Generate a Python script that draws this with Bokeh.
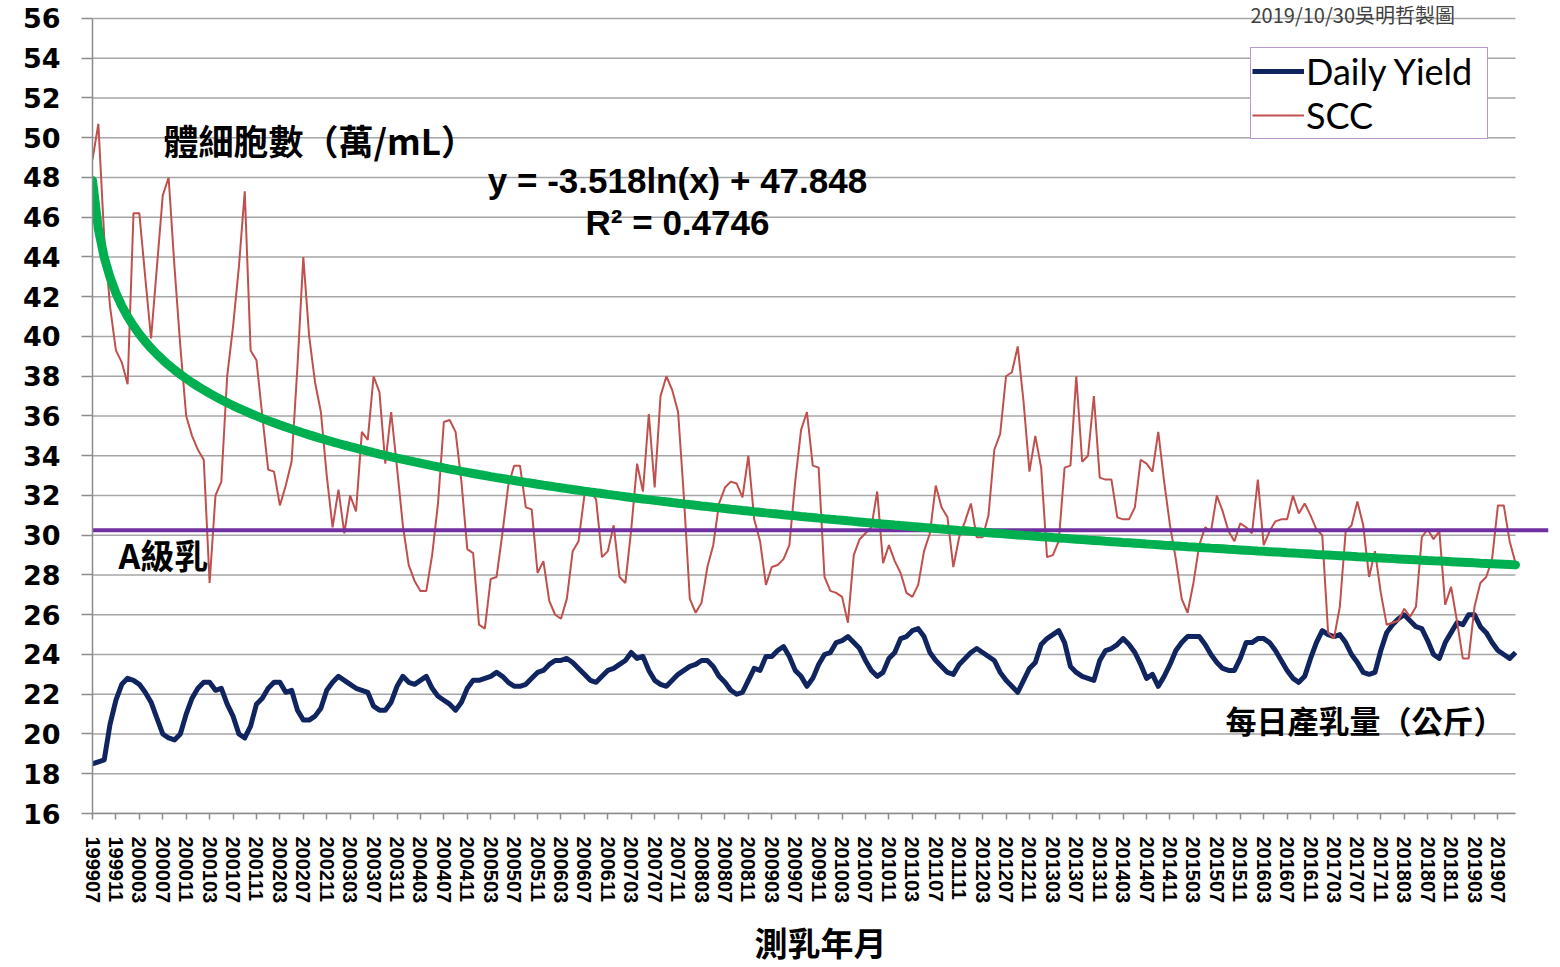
import numpy as np
import pandas as pd
from bokeh.plotting import figure
from bokeh.models import Range1d, FixedTicker, Label, Legend, LegendItem
from bokeh.embed import file_html
from bokeh.resources import INLINE

# ---------------- data ----------------
start_month = "1999-07"
n_months = 244
months = list(pd.period_range(start_month, periods=n_months, freq="M").strftime("%Y%m"))

scc = [
    48.9, 50.7, 45.0, 41.5, 39.3, 38.7, 37.6, 46.2, 46.2, 43.0,
    39.9, 43.5, 47.1, 48.0, 43.5, 39.5, 36.0, 35.0, 34.3, 33.8,
    27.6, 32.0, 32.7, 38.0, 40.5, 43.5, 47.3, 39.3, 38.8, 36.0,
    33.3, 33.2, 31.5, 32.5, 33.7, 38.5, 44.0, 40.0, 37.7, 36.2,
    33.0, 30.4, 32.3, 30.1, 32.0, 31.2, 35.2, 34.8, 38.0, 37.2,
    33.6, 36.2, 33.4, 30.5, 28.5, 27.7, 27.2, 27.2, 29.0, 31.6,
    35.7, 35.8, 35.2, 32.7, 29.3, 29.1, 25.5, 25.3, 27.8, 27.9,
    30.1, 32.5, 33.5, 33.5, 31.4, 31.3, 28.1, 28.7, 26.7, 26.0,
    25.8, 26.8, 29.2, 29.7, 32.0, 32.2, 31.8, 28.9, 29.2, 30.5,
    27.9, 27.6, 30.3, 33.6, 32.2, 36.1, 32.4, 37.0, 38.0, 37.3,
    36.2, 31.9, 26.8, 26.1, 26.6, 28.4, 29.5, 31.6, 32.4, 32.7,
    32.6, 31.9, 34.0, 30.8, 29.7, 27.5, 28.4, 28.5, 28.8, 29.5,
    32.7, 35.3, 36.2, 33.5, 33.4, 27.9, 27.2, 27.1, 26.9, 25.6,
    29.0, 29.8, 30.1, 30.4, 32.2, 28.6, 29.5, 28.7, 28.1, 27.1,
    26.9, 27.5, 29.2, 30.1, 32.5, 31.4, 30.9, 28.4, 29.9, 30.7,
    31.6, 29.9, 29.9, 31.0, 34.3, 35.1, 38.0, 38.2, 39.5, 36.7,
    33.2, 35.0, 33.4, 28.9, 29.0, 29.7, 33.4, 33.5, 38.0, 33.7,
    34.0, 37.0, 32.9, 32.8, 32.8, 30.9, 30.8, 30.8, 31.4, 33.8,
    33.6, 33.2, 35.2, 32.7, 30.5, 28.8, 26.8, 26.1, 27.6, 29.5,
    30.4, 30.2, 32.0, 31.2, 30.2, 29.7, 30.6, 30.4, 30.1, 32.8,
    29.5, 30.2, 30.7, 30.8, 30.8, 32.0, 31.1, 31.6, 31.0, 30.3,
    30.0, 25.1, 24.8, 26.4, 30.2, 30.5, 31.7, 30.5, 27.9, 29.2,
    27.1, 25.5, 25.6, 25.7, 26.3, 25.9, 26.4, 29.9, 30.3, 29.8,
    30.2, 26.5, 27.4, 25.7, 23.8, 23.8, 26.4, 27.6, 27.9, 28.8,
    31.5, 31.5, 29.7, 28.6,
]

daily_yield = [
    18.5, 18.6, 18.7, 20.5, 21.7, 22.5, 22.8, 22.7, 22.5, 22.1,
    21.6, 20.8, 20.0, 19.8, 19.7, 20.0, 21.0, 21.8, 22.3, 22.6,
    22.6, 22.2, 22.3, 21.5, 20.9, 20.0, 19.8, 20.4, 21.5, 21.8,
    22.3, 22.6, 22.6, 22.1, 22.2, 21.2, 20.7, 20.7, 20.9, 21.3,
    22.2, 22.6, 22.9, 22.7, 22.5, 22.3, 22.2, 22.1, 21.4, 21.2,
    21.2, 21.6, 22.4, 22.9, 22.6, 22.5, 22.7, 22.9, 22.3, 21.9,
    21.7, 21.5, 21.2, 21.6, 22.3, 22.7, 22.7, 22.8, 22.9, 23.1,
    22.9, 22.6, 22.4, 22.4, 22.5, 22.8, 23.1, 23.2, 23.5, 23.7,
    23.7, 23.8, 23.6, 23.3, 23.0, 22.7, 22.6, 22.9, 23.2, 23.3,
    23.5, 23.7, 24.1, 23.8, 23.9, 23.2, 22.7, 22.5, 22.4, 22.7,
    23.0, 23.2, 23.4, 23.5, 23.7, 23.7, 23.4, 22.9, 22.6, 22.2,
    22.0, 22.1, 22.7, 23.3, 23.2, 23.9, 23.9, 24.2, 24.4, 23.9,
    23.2, 22.9, 22.4, 22.8, 23.5, 24.0, 24.1, 24.6, 24.7, 24.9,
    24.6, 24.3, 23.7, 23.2, 22.9, 23.1, 23.8, 24.1, 24.8, 24.9,
    25.2, 25.3, 24.9, 24.1, 23.7, 23.4, 23.1, 23.0, 23.5, 23.8,
    24.1, 24.3, 24.1, 23.9, 23.7, 23.1, 22.7, 22.4, 22.1, 22.7,
    23.3, 23.6, 24.5, 24.8, 25.0, 25.2, 24.6, 23.4, 23.1, 22.9,
    22.8, 22.7, 23.7, 24.2, 24.3, 24.5, 24.8, 24.5, 24.1, 23.5,
    22.8, 23.0, 22.4, 22.9, 23.5, 24.2, 24.6, 24.9, 24.9, 24.9,
    24.5, 24.0, 23.6, 23.3, 23.2, 23.2, 23.8, 24.6, 24.6, 24.8,
    24.8, 24.6, 24.2, 23.7, 23.2, 22.8, 22.6, 22.9, 23.8, 24.6,
    25.2, 25.0, 24.9, 25.0, 24.6, 24.0, 23.6, 23.1, 23.0, 23.1,
    24.2, 25.1, 25.5, 25.8, 26.0, 25.7, 25.4, 25.3, 24.7, 24.0,
    23.8, 24.6, 25.1, 25.6, 25.5, 26.0, 26.0, 25.4, 25.1, 24.6,
    24.2, 24.0, 23.8, 24.1,
]

# logarithmic trend line of SCC shown on the chart
trend_a = -3.518
trend_b = 47.848
r_squared = 0.4746
grade_a_level = 30.25

y_ticks = list(range(16, 57, 2))
label_step = 4

series_names = ["Daily Yield", "SCC"]
title_scc = "體細胞數（萬/mL）"
title_yield = "每日產乳量（公斤）"
grade_a_text = "A級乳"
x_title = "測乳年月"
credit = "2019/10/30吳明哲製圖"

# ---------------- figure ----------------
N = len(scc)
idx = np.arange(N)
trend_x = np.arange(1, N + 1)
trend_y = trend_b + trend_a * np.log(trend_x)

FIG_W, FIG_H = 1556, 966
B_LEFT, B_RIGHT = 92, 8
FRAME_BOTTOM = 814      # pixel row of the value 16
TOP_VALUE_ROW = 18      # pixel row of the value 56
B_BOTTOM = FIG_H - FRAME_BOTTOM
FRAME_W = FIG_W - B_LEFT - B_RIGHT
DATA_W = 1423  # pixels from first to last month
x_end = (N - 1) * FRAME_W / DATA_W
y_lo, y_hi = y_ticks[0], y_ticks[-1]
y_end = y_hi + TOP_VALUE_ROW * (y_hi - y_lo) / (FRAME_BOTTOM - TOP_VALUE_ROW)

p = figure(width=FIG_W, height=FIG_H, x_range=Range1d(0, x_end), y_range=Range1d(y_lo, y_end),
           output_backend="svg", toolbar_location=None,
           min_border_left=B_LEFT, min_border_right=B_RIGHT, min_border_top=0,
           min_border_bottom=B_BOTTOM)
p.title.visible = False
p.outline_line_color = None
p.xgrid.visible = False
p.ygrid.visible = False
p.background_fill_color = "white"
p.border_fill_color = "white"

GRID = "#a6a6a6"
AXIS = "#8c8c8c"

# horizontal grid lines limited to the data span
p.segment(x0=[0] * len(y_ticks), x1=[N - 1] * len(y_ticks), y0=y_ticks, y1=y_ticks,
          line_color=GRID, line_width=1.5)

# y axis
p.yaxis.ticker = FixedTicker(ticks=y_ticks)
p.yaxis.bounds = (y_lo, y_hi)
p.yaxis.axis_line_color = AXIS
p.yaxis.axis_line_width = 1.5
p.yaxis.major_tick_line_color = AXIS
p.yaxis.major_tick_line_width = 1.5
p.yaxis.major_tick_out = 11
p.yaxis.major_tick_in = 0
p.yaxis.minor_tick_line_color = None
p.yaxis.major_label_text_font = "DejaVu Sans"
p.yaxis.major_label_text_font_style = "bold"
p.yaxis.major_label_text_font_size = "27px"
p.yaxis.major_label_text_color = "black"
p.yaxis.major_label_standoff = 21

# x axis
xt = list(range(0, N, label_step))
p.xaxis.ticker = FixedTicker(ticks=xt)
p.xaxis.major_label_overrides = {i: months[i] for i in xt}
p.xaxis.bounds = (0, N - 1)
p.xaxis.axis_line_color = AXIS
p.xaxis.axis_line_width = 1.5
p.xaxis.major_tick_line_color = AXIS
p.xaxis.major_tick_line_width = 1.5
p.xaxis.major_tick_out = 6
p.xaxis.major_tick_in = 0
p.xaxis.minor_tick_line_color = None
p.xaxis.major_label_orientation = "vertical"
p.xaxis.major_label_text_font = "Liberation Sans"
p.xaxis.major_label_text_font_style = "bold"
p.xaxis.major_label_text_font_size = "20px"
p.xaxis.major_label_text_color = "black"
p.xaxis.major_label_standoff = 17
p.xaxis.axis_label = x_title
p.xaxis.axis_label_text_font = "Liberation Sans, Noto Sans CJK TC"
p.xaxis.axis_label_text_font_style = "bold"
p.xaxis.axis_label_text_font_size = "33px"
p.xaxis.axis_label_text_color = "black"
p.xaxis.axis_label_standoff = 20

# series
r_yield = p.line(idx, daily_yield, line_color="#10245f", line_width=5, line_join="round")
r_scc = p.line(idx, scc, line_color="#c0504d", line_width=2)
p.line([0, x_end], [grade_a_level, grade_a_level], line_color="#7030a0", line_width=4)
p.line(idx, trend_y, line_color="#00b050", line_width=9, line_cap="round")

legend = Legend(items=[LegendItem(label=series_names[0], renderers=[r_yield]),
                       LegendItem(label=series_names[1], renderers=[r_scc])],
                location=(1158, 674))
legend.border_line_color = "#7030a0"
legend.border_line_width = 1.5
legend.background_fill_color = "white"
legend.background_fill_alpha = 1
legend.label_text_font = "Lato"
legend.label_text_font_size = "36px"
legend.label_text_color = "black"
legend.label_width = 180
legend.glyph_width = 52
legend.glyph_height = 34
legend.label_standoff = 2
legend.padding = 1
legend.spacing = 0
legend.margin = 0
p.add_layout(legend)

def add_text(txt, sx, sy, size, font, style="bold", align="left", color="black"):
    p.add_layout(Label(x=sx, y=sy, x_units="screen", y_units="screen", text=txt,
                       text_font=font, text_font_size=size, text_font_style=style,
                       text_align=align, text_baseline="middle", text_color=color))

eq_text = "y = %.3fln(x) + %.3f" % (trend_a, trend_b)
r2_text = "R² = %.4f" % r_squared

add_text(title_scc, 71, 674, "35px", "Noto Sans CJK TC")
add_text(eq_text, 585, 633, "35px", "Liberation Sans", align="center")
add_text(r2_text, 585, 591, "35px", "Liberation Sans", align="center")
add_text(grade_a_text, 26, 259, "34px", "Noto Sans CJK TC")
add_text(title_yield, 1133, 94, "31px", "Noto Sans CJK TC")
add_text(credit, 1158, 799, "20px", "Noto Sans CJK TC", style="normal", color="#404040")

open("out.html", "w").write(file_html(p, INLINE))
